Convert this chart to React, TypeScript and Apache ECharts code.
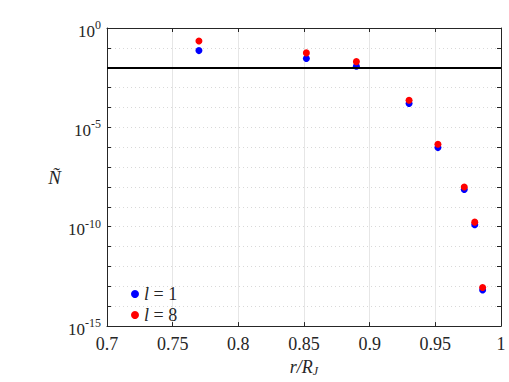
import React, { useEffect, useRef } from 'react';
import * as echarts from 'echarts';

const radii = [0.77, 0.8518, 0.8899, 0.93, 0.952, 0.972, 0.98, 0.986];
const densityL1 = [0.073, 0.0295, 0.012, 1.6e-4, 9.6e-7, 7.5e-9, 1.26e-10, 6.5e-14];
const densityL8 = [0.22, 0.056, 0.0203, 2.3e-4, 1.4e-6, 1.0e-8, 1.7e-10, 8.7e-14];
const seriesNames = ['l = 1', 'l = 8'];
const thresholdLevel = 0.013;
const majorGridLevels = [1e-5, 1e-10];

const FONT = "'Times New Roman', 'Liberation Serif', serif";
const INK = '#262626';

export default function App() {
  const ref = useRef<HTMLDivElement>(null);
  useEffect(() => {
    if (!ref.current) return;
    const chart = echarts.init(ref.current, undefined, { renderer: 'svg' });
    const yLabel = (v: number) => {
      const e = Math.round(Math.log10(v));
      if (e % 5 !== 0) return '';
      return `{b|10}{s|${e}}`;
    };
    const yCommon = {
      type: 'log' as const,
      logBase: 10,
      min: 1e-15,
      max: 1,
      interval: 1,
    };
    const option: any = {
      animation: false,
      backgroundColor: '#ffffff',
      textStyle: { fontFamily: FONT },
      grid: { left: 107, right: 8, top: 28, bottom: 50, containLabel: false },
      legend: {
        orient: 'vertical',
        left: 126,
        top: 280,
        itemWidth: 8,
        itemHeight: 8,
        itemGap: 3,
        icon: 'circle',
        data: seriesNames,
        formatter: (name: string) => `{i|l}{t|${name.slice(1)}}`,
        textStyle: {
          fontFamily: FONT,
          rich: {
            i: { fontFamily: FONT, fontSize: 18, fontStyle: 'italic', color: INK },
            t: { fontFamily: FONT, fontSize: 18, color: INK },
          },
        },
      },
      xAxis: [
        {
          type: 'value',
          min: 0.7,
          max: 1,
          interval: 0.05,
          position: 'bottom',
          name: '{i|r/R}{sub|J}',
          nameLocation: 'middle',
          nameGap: 30,
          nameTextStyle: {
            fontFamily: FONT,
            rich: {
              i: { fontFamily: FONT, fontSize: 18, fontStyle: 'italic', color: INK },
              sub: { fontFamily: FONT, fontSize: 12, fontStyle: 'italic', color: INK, padding: [8, 0, 0, 0] },
            },
          },
          axisLine: { show: true, lineStyle: { color: INK, width: 1 } },
          axisTick: { show: true, inside: true, length: 4, lineStyle: { color: INK } },
          axisLabel: {
            fontFamily: FONT,
            fontSize: 18,
            color: INK,
            margin: 9,
            formatter: (v: number) => String(Number(v.toFixed(2))),
          },
          splitLine: { show: true, lineStyle: { color: '#e6e6e6', width: 1 } },
        },
        {
          type: 'value',
          min: 0.7,
          max: 1,
          interval: 0.05,
          position: 'top',
          axisLine: { show: true, lineStyle: { color: INK, width: 1 } },
          axisTick: { show: true, inside: true, length: 4, lineStyle: { color: INK } },
          axisLabel: { show: false },
          splitLine: { show: false },
        },
      ],
      yAxis: [
        {
          ...yCommon,
          position: 'left',
          name: 'Ñ',
          nameLocation: 'middle',
          nameRotate: 0,
          nameGap: 46,
          nameTextStyle: { fontFamily: FONT, fontSize: 19, fontStyle: 'italic', color: INK },
          axisLine: { show: true, lineStyle: { color: INK, width: 1 } },
          axisTick: { show: true, inside: true, length: 4, lineStyle: { color: INK } },
          axisLabel: {
            fontFamily: FONT,
            color: INK,
            margin: 6,
            formatter: yLabel,
            rich: {
              b: { fontFamily: FONT, fontSize: 17, color: INK, padding: [6, 0, 0, 0] },
              s: { fontFamily: FONT, fontSize: 12, color: INK, padding: [0, 0, 6, 0] },
            },
          },
          splitLine: { show: true, lineStyle: { color: '#d9d9d9', width: 1, type: [1, 3] } },
        },
        {
          ...yCommon,
          position: 'right',
          axisLine: { show: true, lineStyle: { color: INK, width: 1 } },
          axisTick: { show: true, inside: true, length: 4, lineStyle: { color: INK } },
          axisLabel: { show: false },
          splitLine: { show: false },
        },
      ],
      series: [
        {
          name: seriesNames[0],
          type: 'scatter',
          xAxisIndex: 0,
          yAxisIndex: 0,
          symbol: 'circle',
          symbolSize: 7,
          itemStyle: { color: '#0000ff', opacity: 1 },
          data: radii.map((r, i) => [r, densityL1[i]]),
          z: 3,
          markLine: {
            silent: true,
            symbol: 'none',
            label: { show: false },
            lineStyle: { color: '#e6e6e6', width: 1, type: 'solid' },
            data: majorGridLevels.map((y) => ({ yAxis: y })),
            z: 1,
          },
        },
        {
          name: seriesNames[1],
          type: 'scatter',
          xAxisIndex: 0,
          yAxisIndex: 0,
          symbol: 'circle',
          symbolSize: 7,
          itemStyle: { color: '#ff0000', opacity: 1 },
          data: radii.map((r, i) => [r, densityL8[i]]),
          z: 4,
          markLine: {
            silent: true,
            symbol: 'none',
            label: { show: false },
            lineStyle: { color: '#000000', width: 2, type: 'solid' },
            data: [{ yAxis: thresholdLevel }],
          },
        },
      ],
    };
    chart.setOption(option);
    return () => chart.dispose();
  }, []);
  return <div ref={ref} style={{ width: 509, height: 382, position: 'absolute', left: 0, top: 0 }} />;
}
